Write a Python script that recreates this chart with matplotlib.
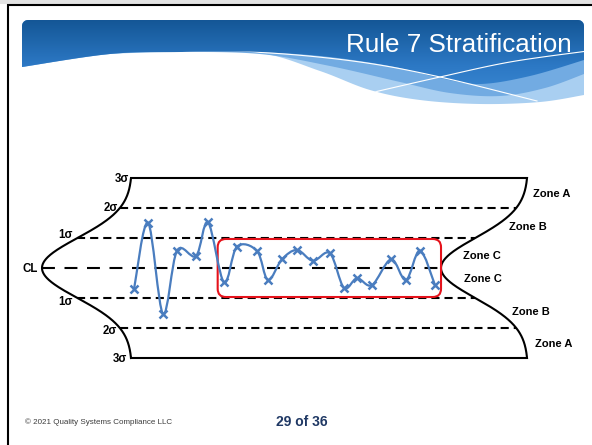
import numpy as np
import matplotlib
matplotlib.use('Agg')
import matplotlib.pyplot as plt
from matplotlib.path import Path
from matplotlib.patches import PathPatch, Polygon, FancyBboxPatch, Rectangle

# ---------------- data ----------------
sample_x = [1.00, 1.93, 2.93, 3.86, 5.12, 5.92, 6.98, 7.84, 9.17, 9.90, 10.83,
            11.83, 12.89, 14.02, 14.95, 15.82, 16.81, 18.08, 19.07, 20.00, 21.00]
sample_sigma = [-0.71, 1.51, -1.53, 0.58, 0.40, 1.52, -0.48, 0.71, 0.57, -0.40, 0.29,
                0.60, 0.24, 0.49, -0.66, -0.34, -0.57, 0.29, -0.40, 0.58, -0.57]
dashed_levels = [2, 1, -1, -2]
limit_levels = [3, 2, 1, 0, -1, -2, -3]
limit_labels = ['3σ', '2σ', '1σ', 'CL', '1σ', '2σ', '3σ']
zone_labels = ['Zone A', 'Zone B', 'Zone C', 'Zone C', 'Zone B', 'Zone A']
strat_first, strat_last = 7, 21          # stratified run (1-based sample numbers)
title = 'Rule 7 Stratification'
footer_left = '© 2021 Quality Systems Compliance LLC'
page_label = '29 of 36'

# ---------------- layout ----------------
W, H = 592, 445
FONT = 'Liberation Sans'
X0PX, DXPX = 134.0, 15.05   # pixel of sample position 1, pixels per unit
Y0PX, DYPX = 268.0, 30.0    # pixel of CL, pixels per sigma
BLUE = '#4a7dbf'

def px_to_x(px):
    return 1 + (px - X0PX) / DXPX

fig = plt.figure(figsize=(W / 100, H / 100), dpi=100)
fig.patch.set_facecolor('white')
bg = fig.add_axes([0, 0, 1, 1])
bg.set_xlim(0, W); bg.set_ylim(H, 0); bg.axis('off')

# screenshot frame
bg.add_patch(Rectangle((0, 0), W, 4.3, color='#e3e3e3', lw=0))
bg.plot([7, W], [5.2, 5.2], color='black', lw=1.5, solid_capstyle='butt')
bg.plot([8, 8], [4.3, H], color='black', lw=1.5, solid_capstyle='butt')

# ---------------- banner ----------------
def catmull(points, n=24):
    p = np.asarray(points, float)
    p = np.vstack([p[0], p, p[-1]])
    out = []
    for i in range(1, len(p) - 2):
        p0, p1, p2, p3 = p[i - 1], p[i], p[i + 1], p[i + 2]
        t = np.linspace(0, 1, n, endpoint=False)[:, None]
        out.append(0.5 * ((2 * p1) + (-p0 + p2) * t + (2 * p0 - 5 * p1 + 4 * p2 - p3) * t ** 2
                          + (-p0 + 3 * p1 - 3 * p2 + p3) * t ** 3))
    out.append(p[-2][None, :])
    return np.vstack(out)

BL, BR, BT, RAD = 22, 584, 20, 6

def top_outline(y_left, y_right):
    pts = [(BL, y_left), (BL, BT + RAD)]
    a = np.linspace(np.pi, 1.5 * np.pi, 10)
    pts += list(zip(BL + RAD + RAD * np.cos(a), BT + RAD + RAD * np.sin(a)))
    a = np.linspace(1.5 * np.pi, 2 * np.pi, 10)
    pts += list(zip(BR - RAD + RAD * np.cos(a), BT + RAD + RAD * np.sin(a)))
    pts += [(BR, y_right)]
    return np.array(pts)

curve_w = catmull([(22, 67), (60, 59), (110, 54), (180, 52), (260, 53), (320, 71), (370, 90),
                   (420, 100), (480, 104), (540, 102), (584, 95)])
curve_m = catmull([(22, 67), (110, 54), (180, 52), (260, 54), (330, 66), (400, 82), (450, 93),
                   (500, 96), (545, 88), (584, 74)])
curve_d = catmull([(22, 67), (110, 54), (180, 52), (250, 52), (320, 56), (390, 66), (440, 78),
                   (480, 84), (530, 76), (584, 60)])

banner_poly = np.vstack([top_outline(67, 95), curve_w[::-1]])
banner = Polygon(banner_poly, closed=True, facecolor='#a9cff1', edgecolor='none')
bg.add_patch(banner)
mid_poly = np.vstack([top_outline(67, 74), curve_m[::-1]])
bg.add_patch(Polygon(mid_poly, closed=True, facecolor='#72abe2', edgecolor='none'))

dark_poly = np.vstack([top_outline(67, 60), curve_d[::-1]])
dark_clip = Polygon(dark_poly, closed=True, transform=bg.transData)
c_top = np.array([0x13, 0x55, 0x94]) / 255
c_mid = np.array([0x2c, 0x78, 0xc4]) / 255
c_bot = np.array([0x3c, 0x89, 0xd4]) / 255
yy = np.linspace(18, 100, 120)
grad = np.empty((len(yy), 2, 3))
for k, y in enumerate(yy):
    if y < 65:
        t = (y - 18) / 47
        c = c_top * (1 - t) + c_mid * t
    else:
        t = (y - 65) / 35
        c = c_mid * (1 - t) + c_bot * t
    grad[k, :, :] = c
im = bg.imshow(grad, extent=(BL, BR, 100, 18), origin='upper', aspect='auto',
               interpolation='bilinear', zorder=2)
im.set_clip_path(dark_clip)

line1 = catmull([(150, 53.5), (200, 52.3), (270, 53), (360, 62), (440, 77), (537, 101)])
line2 = catmull([(370, 93), (440, 77), (510, 62), (584, 51.5)])
banner_clip = Polygon(banner_poly, closed=True, transform=bg.transData)
for ln in (line1, line2):
    l, = bg.plot(ln[:, 0], ln[:, 1], color='white', lw=0.8, zorder=3)
    l.set_clip_path(banner_clip)

bg.text(346, 52, title, color='white', fontsize=18.7, family=FONT, ha='left',
        va='baseline', zorder=4)

# footer
bg.text(25, 422, footer_left, fontsize=5.8, color='#3c3c3c', family=FONT, ha='left', va='center')
bg.text(276, 422, page_label, fontsize=10, fontweight='bold', color='#1f3864', family=FONT,
        ha='left', va='center')

# ---------------- chart ----------------
top_px, bot_px, left_px, right_px = 170, 366, 30, 560
ax = fig.add_axes([left_px / W, (H - bot_px) / H, (right_px - left_px) / W, (bot_px - top_px) / H])
ax.set_xlim(px_to_x(left_px), px_to_x(right_px))
ax.set_ylim((Y0PX - bot_px) / DYPX, (Y0PX - top_px) / DYPX)
ax.axis('off')
ax.patch.set_alpha(0)

left_base, left_amp = px_to_x(132), 90 / DXPX
right_base, right_amp = px_to_x(528), 87 / DXPX

def left_curve(z):
    return left_base - left_amp * np.exp(-np.asarray(z) ** 2 / 2)

def right_curve(z):
    return right_base - right_amp * np.exp(-np.asarray(z) ** 2 / 2)

z = np.linspace(-3, 3, 400)
outline_x = np.concatenate([left_curve(z), right_curve(z[::-1]), [left_curve(-3)]])
outline_y = np.concatenate([z, z[::-1], [-3]])
ax.plot(outline_x, outline_y, color='black', lw=1.5, solid_joinstyle='miter', zorder=2)

for lv in dashed_levels:
    ax.plot([left_curve(lv), right_curve(lv)], [lv, lv], color='black', lw=1.5,
            dashes=(3.9, 2.4), zorder=2)
ax.plot([left_curve(0), right_curve(0)], [0, 0], color='black', lw=1.5,
        dashes=(6.2, 4.6), zorder=2)

# smoothed data line (Catmull-Rom as cubic Bezier)
pts = np.column_stack([sample_x, sample_sigma])
n = len(pts)
verts = [pts[0]]
codes = [Path.MOVETO]
for i in range(n - 1):
    p0 = pts[max(i - 1, 0)]; p1 = pts[i]; p2 = pts[i + 1]; p3 = pts[min(i + 2, n - 1)]
    verts += [p1 + (p2 - p0) / 6, p2 - (p3 - p1) / 6, p2]
    codes += [Path.CURVE4] * 3
ax.add_patch(PathPatch(Path(verts, codes), fill=False, edgecolor=BLUE, lw=1.6, zorder=4))
ax.plot(sample_x, sample_sigma, ls='none', marker='x', ms=5.5, mew=1.8, color=BLUE, zorder=5)

# stratification box
bx0 = sample_x[strat_first - 1] - 0.42
bx1 = sample_x[strat_last - 1] + 0.40
ax.add_patch(FancyBboxPatch((bx0, -0.967), bx1 - bx0, 1.934,
                            boxstyle='round,pad=0,rounding_size=0.55', mutation_aspect=0.5,
                            facecolor='none', edgecolor='#e5121b', lw=1.5, zorder=3))

# sigma labels
sig_pos = [(129, 179), (118, 208), (73, 235), (38, 269), (73, 302), (117, 331), (127, 359)]
for lab, (x, y) in zip(limit_labels, sig_pos):
    bg.text(x, y, lab, fontsize=8.3, fontweight='bold', family=FONT, ha='right', va='center')

zone_pos = [(533, 194), (509, 227), (463, 256), (464, 279), (512, 312), (535, 344)]
for lab, (x, y) in zip(zone_labels, zone_pos):
    bg.text(x, y, lab, fontsize=8, fontweight='bold', family=FONT, ha='left', va='center')

fig.savefig('out.png', dpi=100)
